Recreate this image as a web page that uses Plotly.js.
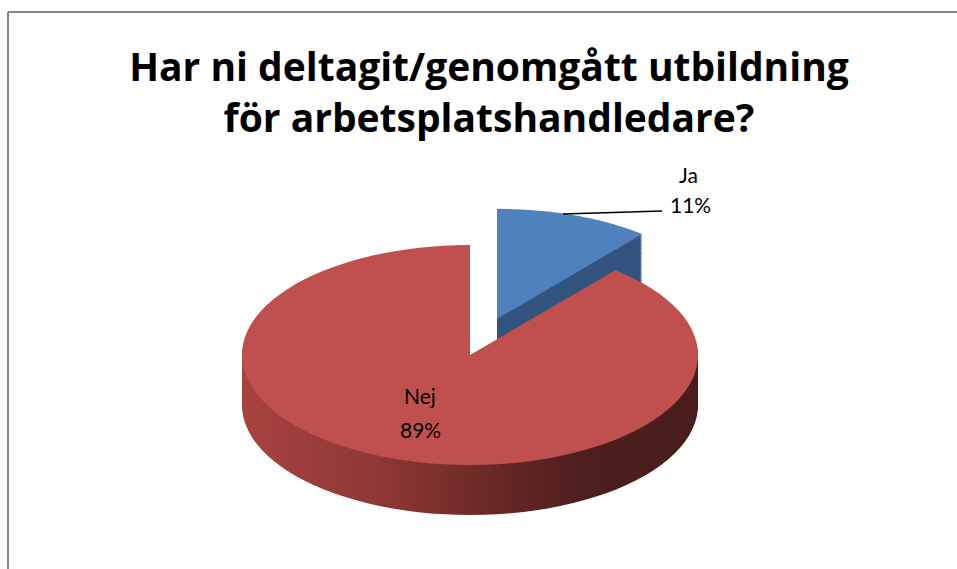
<!DOCTYPE html>
<html>
<head>
<meta charset="utf-8">
<script src="https://cdn.plot.ly/plotly-3.0.1.min.js"></script>
<style>
  html, body { margin: 0; padding: 0; background: #ffffff; }
  #chart { width: 957px; height: 569px; }
</style>
</head>
<body>
<div id="chart"></div>
<script>
// ---- data ----
const labels = ['Ja', 'Nej'];
const values = [11, 89];
const titleLines = ['Har ni deltagit/genomgått utbildning', 'för arbetsplatshandledare?'];

// ---- styles ----
const topColors = ['#4F81BD', '#C0504D'];
const sideColors = ['#33547E', '#7A2F2D'];
const pulls = [0.35, 0];

// ---- geometry of the tilted pie (screen px) ----
const CX = 470, CY = 355, RX = 228, RY = 110, DEPTH = 50, NLAYERS = 25;
const layerOffsets = [];
for (let k = NLAYERS; k >= 0; k--) layerOffsets.push(DEPTH * k / NLAYERS); // bottom layers first, top face (0) last

const total = values.reduce((a, b) => a + b, 0);
const pctText = values.map(v => Math.round(v / total * 100) + '%');

const traces = layerOffsets.map(off => ({
  type: 'pie',
  labels: labels,
  values: values,
  sort: false,
  direction: 'clockwise',
  rotation: 0,
  pull: pulls,
  textinfo: 'none',
  hoverinfo: 'skip',
  showlegend: false,
  marker: {
    colors: off === 0 ? topColors : sideColors,
    line: { width: 0 }
  }
}));

const W = 957, H = 569;
const px = x => x / W;
const py = y => 1 - y / H;
const labelFont = { family: 'Lato, "Open Sans", sans-serif', size: 21, color: '#000000' };

const layout = {
  width: W,
  height: H,
  margin: { l: 0, r: 0, t: 0, b: 0 },
  paper_bgcolor: '#ffffff',
  plot_bgcolor: '#ffffff',
  showlegend: false,
  title: {
    text: '<b>' + titleLines.join('<br>') + '</b>',
    font: { family: '"Open Sans", Lato, sans-serif', size: 39, color: '#000000' },
    x: px(489),
    xanchor: 'center',
    xref: 'paper',
    y: py(81),
    yanchor: 'middle',
    yref: 'paper'
  },
  annotations: [
    { text: labels[0], x: px(688), y: py(174), xref: 'paper', yref: 'paper', showarrow: false, font: labelFont, xanchor: 'center', yanchor: 'middle' },
    { text: pctText[0], x: px(690), y: py(205), xref: 'paper', yref: 'paper', showarrow: false, font: labelFont, xanchor: 'center', yanchor: 'middle' },
    { text: labels[1], x: px(420), y: py(395), xref: 'paper', yref: 'paper', showarrow: false, font: labelFont, xanchor: 'center', yanchor: 'middle' },
    { text: pctText[1], x: px(420), y: py(429), xref: 'paper', yref: 'paper', showarrow: false, font: labelFont, xanchor: 'center', yanchor: 'middle' }
  ],
  shapes: [
    { type: 'line', xref: 'paper', yref: 'paper', x0: px(563), y0: py(214), x1: px(662), y1: py(211), line: { color: '#000000', width: 1.5 } },
    { type: 'line', xref: 'paper', yref: 'paper', x0: px(8), y0: py(12), x1: 1.02, y1: py(12), line: { color: '#868686', width: 2 } },
    { type: 'line', xref: 'paper', yref: 'paper', x0: px(8), y0: py(12), x1: px(8), y1: -0.02, line: { color: '#868686', width: 2 } }
  ]
};

const gd = document.getElementById('chart');
Plotly.newPlot(gd, traces, layout, { staticPlot: true, displayModeBar: false }).then(() => {
  const ns = 'http://www.w3.org/2000/svg';
  const svg = gd.querySelector('.main-svg');
  let defs = svg.querySelector('defs');
  if (!defs) { defs = document.createElementNS(ns, 'defs'); svg.insertBefore(defs, svg.firstChild); }
  const lg = document.createElementNS(ns, 'linearGradient');
  lg.setAttribute('id', 'sideRedGrad');
  lg.setAttribute('x1', '0'); lg.setAttribute('y1', '0');
  lg.setAttribute('x2', '1'); lg.setAttribute('y2', '0');
  [['0', '#A8433F'], ['0.3', '#8E3835'], ['0.55', '#6A2826'], ['0.75', '#4D1E1E'], ['1', '#4A1D1D']].forEach(s => {
    const st = document.createElementNS(ns, 'stop');
    st.setAttribute('offset', s[0]);
    st.setAttribute('stop-color', s[1]);
    lg.appendChild(st);
  });
  defs.appendChild(lg);

  const maxPull = Math.max.apply(null, pulls);
  const groups = gd.querySelectorAll('.pielayer g.trace');
  groups.forEach((g, i) => {
    const cd0 = (gd.calcdata && gd.calcdata[i] && gd.calcdata[i][0]) || {};
    const r = cd0.r || Math.min(W, H) / (2 * (1 + maxPull));
    const cx = cd0.cx !== undefined ? cd0.cx : W / 2;
    const cy = cd0.cy !== undefined ? cd0.cy : H / 2;
    const off = layerOffsets[i];
    g.setAttribute('transform',
      'translate(' + CX + ',' + (CY + off) + ') scale(' + (RX / r) + ',' + (RY / r) + ') translate(' + (-cx) + ',' + (-cy) + ')');
    if (off !== 0) {
      const slices = g.querySelectorAll('g.slice');
      if (slices[1]) {
        const p = slices[1].querySelector('path.surface');
        if (p) p.style.fill = 'url(#sideRedGrad)';
      }
    }
  });
});
</script>
</body>
</html>
